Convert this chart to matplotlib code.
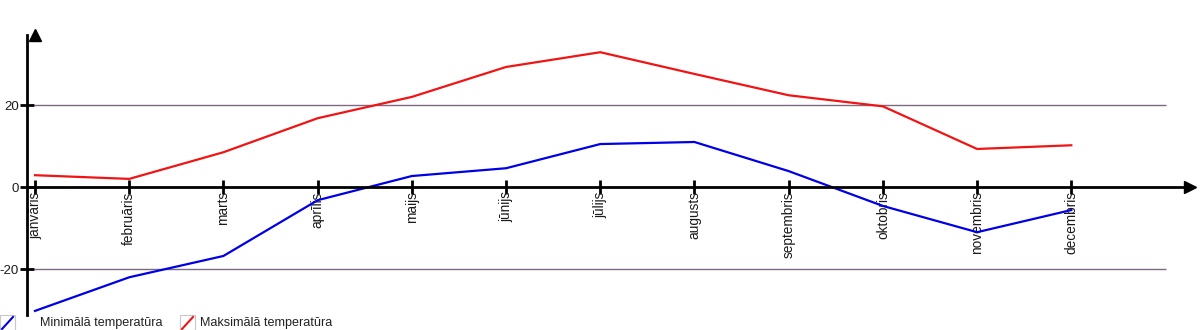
import matplotlib
matplotlib.use('Agg')
import matplotlib.pyplot as plt
from matplotlib.patches import Rectangle
from matplotlib.lines import Line2D

plt.rcParams['font.family'] = ['Liberation Sans', 'DejaVu Sans']

months = ['janvāris', 'februāris', 'marts', 'aprīlis', 'maijs', 'jūnijs',
          'jūlijs', 'augusts', 'septembris', 'oktobris', 'novembris', 'decembris']
t_min = [-30.2, -22.0, -16.8, -3.2, 2.7, 4.6, 10.5, 11.0, 3.9, -4.6, -11.0, -5.6]
t_max = [2.9, 2.0, 8.5, 16.8, 22.0, 29.3, 32.9, 27.6, 22.4, 19.7, 9.3, 10.2]
y_ticks = [-20, 0, 20]
series_labels = ['Minimālā temperatūra', 'Maksimālā temperatūra']
series_colors = ['#0000e6', '#f01414']

fig = plt.figure(figsize=(12, 3.3), dpi=100)
# axes box in pixels: x 27..1190, y 35..315
ax = fig.add_axes([27/1200, 1 - 315/330, (1190-27)/1200, (315-35)/330])

x = list(range(len(months)))
ax.set_xlim(-0.085, 12.26)
ax.set_ylim(-31.2, 37.1)

# grid lines at +-20
ax.hlines([20, -20], -0.01, 12.0, color='#7c6a80', lw=1, zorder=1)

ax.plot(x, t_min, color=series_colors[0], lw=1.6, zorder=3)
ax.plot(x, t_max, color=series_colors[1], lw=1.6, zorder=3)

# axes as arrows through origin
for s in ['top', 'right']:
    ax.spines[s].set_visible(False)
ax.spines['bottom'].set_position(('data', 0))
ax.spines['left'].set_position(('data', -0.085))
ax.spines['bottom'].set_linewidth(2)
ax.spines['left'].set_linewidth(2)
ax.spines['bottom'].set_zorder(4)
ax.spines['left'].set_zorder(4)
ax.plot(1, 0, '>', color='black', markersize=9, transform=ax.get_yaxis_transform(),
        clip_on=False, zorder=5)
ax.plot(0, 1, '^', color='black', markersize=9, transform=ax.get_xaxis_transform(),
        clip_on=False, zorder=5)

ax.set_xticks(x)
ax.set_xticklabels(months, rotation=90, va='top', ha='center', fontsize=9.8,
                   color='#1a1a1a')
ax.set_yticks(y_ticks)
ax.set_yticklabels([str(v) for v in y_ticks], fontsize=9.5, color='#1a1a1a')
ax.tick_params(axis='both', direction='inout', length=10, width=2)
ax.tick_params(axis='y', pad=1)
ax.tick_params(axis='x', pad=-2)

# legend at the bottom
legend_x = [0, 180]
text_x = [40, 200]
for lx, tx, lab, col in zip(legend_x, text_x, series_labels, series_colors):
    bx, by, bw, bh = lx / 1200, 0.0, 15 / 1200, 15 / 330
    fig.patches.append(Rectangle((bx, by), bw, bh, transform=fig.transFigure,
                                 facecolor='white', edgecolor='#c8c8c8', lw=0.8))
    fig.lines.append(Line2D([bx + 2/1200, bx + 13/1200], [by + 1/330, by + 13/330],
                            transform=fig.transFigure, color=col, lw=1.5))
    fig.text(tx / 1200, 1 - 323/330, lab, fontsize=9.1, va='center', ha='left',
             color='#222222')

fig.savefig('out.png', dpi=100)
